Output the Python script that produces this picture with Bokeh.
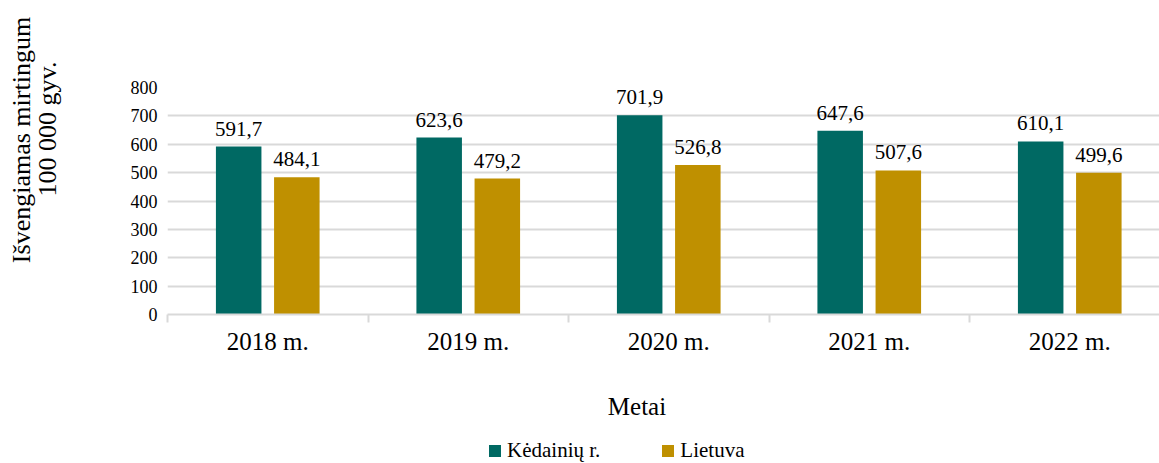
from bokeh.plotting import figure
from bokeh.layouts import column, row
from bokeh.models import (Range1d, FixedTicker, CustomJSTickFormatter, ColumnDataSource,
                          Legend, LegendItem, Label, Div)
from bokeh.core.properties import value
from bokeh.embed import file_html
from bokeh.resources import INLINE

years = ["2018 m.", "2019 m.", "2020 m.", "2021 m.", "2022 m."]
kedainiai = [591.7, 623.6, 701.9, 647.6, 610.1]
lietuva = [484.1, 479.2, 526.8, 507.6, 499.6]
series_names = ["Kėdainių r.", "Lietuva"]
y_ticks = [0, 100, 200, 300, 400, 500, 600, 700, 800]
y_title_lines = ["Išvengiamas mirtingum", "100 000 gyv."]
x_title = "Metai"

FONT = "Liberation Serif"
TEAL = "#006963"
GOLD = "#BF9000"
GRID = "#d9d9d9"

W = 1159
TOP_H = 360
BOT_H = 463 - TOP_H
TITLE_W = 67
LEFT = 167

idx = list(range(len(years)))
centers = [i + 0.5 for i in idx]
off = 0.145
bw = 0.227


def fmt(v):
    return f"{v:.1f}".replace(".", ",")


src_k = ColumnDataSource(dict(x=[c - off for c in centers], top=kedainiai,
                              lab=[fmt(v) for v in kedainiai]))
src_l = ColumnDataSource(dict(x=[c + off for c in centers], top=lietuva,
                              lab=[fmt(v) for v in lietuva]))

p = figure(width=W - TITLE_W, height=TOP_H, output_backend="svg", toolbar_location=None,
           x_range=Range1d(0, (W - LEFT) / 200.5), y_range=Range1d(0, 800),
           min_border_left=LEFT - TITLE_W, min_border_right=0, min_border_top=87,
           min_border_bottom=TOP_H - 314)
p.outline_line_color = None
p.background_fill_color = "white"
p.border_fill_color = "white"

p.vbar(x="x", top="top", width=bw, source=src_k, fill_color=TEAL, line_color=None)
p.vbar(x="x", top="top", width=bw, source=src_l, fill_color=GOLD, line_color=None)

for s in (src_k, src_l):
    p.text(x="x", y="top", text="lab", source=s, text_align="center",
           text_baseline="alphabetic", y_offset=-18, text_font=value(FONT),
           text_font_size="21px", text_color="black")

# x axis
p.xaxis.ticker = FixedTicker(ticks=centers, minor_ticks=list(range(len(years) + 1)))
p.xaxis.formatter = CustomJSTickFormatter(args=dict(labels=years),
                                          code="return labels[Math.floor(tick)] || '';")
p.xaxis.major_tick_line_color = None
p.xaxis.major_tick_out = 0
p.xaxis.major_tick_in = 0
p.xaxis.minor_tick_out = 8
p.xaxis.minor_tick_in = 0
p.xaxis.minor_tick_line_color = GRID
p.xaxis.minor_tick_line_width = 2
p.xaxis.axis_line_color = GRID
p.xaxis.axis_line_width = 2
p.xaxis.major_label_text_font = FONT
p.xaxis.major_label_text_font_size = "25px"
p.xaxis.major_label_text_color = "black"
p.xaxis.major_label_standoff = 5

# y axis
p.yaxis.ticker = FixedTicker(ticks=y_ticks)
p.yaxis.axis_line_color = None
p.yaxis.major_tick_line_color = None
p.yaxis.minor_tick_line_color = None
p.yaxis.major_tick_out = 0
p.yaxis.major_tick_in = 0
p.yaxis.major_label_text_font = FONT
p.yaxis.major_label_text_font_size = "18px"
p.yaxis.major_label_text_color = "black"
p.yaxis.major_label_standoff = 10

p.xgrid.grid_line_color = None
p.ygrid.grid_line_color = GRID
p.ygrid.grid_line_width = 2

# rotated two-line y title
line_style = ("position:absolute;white-space:nowrap;font-family:'Liberation Serif',serif;"
              "font-size:26px;line-height:26px;color:black;"
              "transform:translate(-50%,-50%) rotate(-90deg);")
title_html = (
    f'<div style="position:relative;width:{TITLE_W}px;height:{TOP_H}px;">'
    f'<div style="{line_style}left:22px;top:140px;">{y_title_lines[0]}</div>'
    f'<div style="{line_style}left:48px;top:129px;">{y_title_lines[1]}</div>'
    '</div>'
)
ytitle = Div(text=title_html, width=TITLE_W, height=TOP_H, margin=0)

# bottom panel: x title + legend
fb = figure(width=W, height=BOT_H, output_backend="svg", toolbar_location=None,
            x_range=Range1d(0, W), y_range=Range1d(0, BOT_H),
            x_axis_location=None, y_axis_location=None, min_border=0)
fb.outline_line_color = None
fb.background_fill_color = "white"
fb.border_fill_color = "white"
fb.xgrid.visible = False
fb.ygrid.visible = False
fb.add_layout(Label(x=636.5, y=463 - 415 + 9, text=x_title, text_align="center",
                    text_baseline="alphabetic", text_font=FONT, text_font_size="25px",
                    text_color="black"))
# zero-size stand-in renderers that only carry the legend swatch colours
lk = fb.vbar(x=[0], top=[0], width=0, fill_color=TEAL, line_color=None)
ll = fb.vbar(x=[0], top=[0], width=0, fill_color=GOLD, line_color=None)
legend = Legend(items=[LegendItem(label=series_names[0], renderers=[lk]),
                       LegendItem(label=series_names[1], renderers=[ll])],
                location=(487, 0), orientation="horizontal",
                glyph_width=15, glyph_height=15, label_standoff=5, spacing=60,
                padding=0, margin=0, border_line_color=None, background_fill_alpha=0,
                label_text_font=FONT, label_text_font_size="21px", label_text_color="black")
fb.add_layout(legend)

layout = column(row(ytitle, p, spacing=0), fb, spacing=0)
open("out.html", "w").write(file_html(layout, INLINE))
